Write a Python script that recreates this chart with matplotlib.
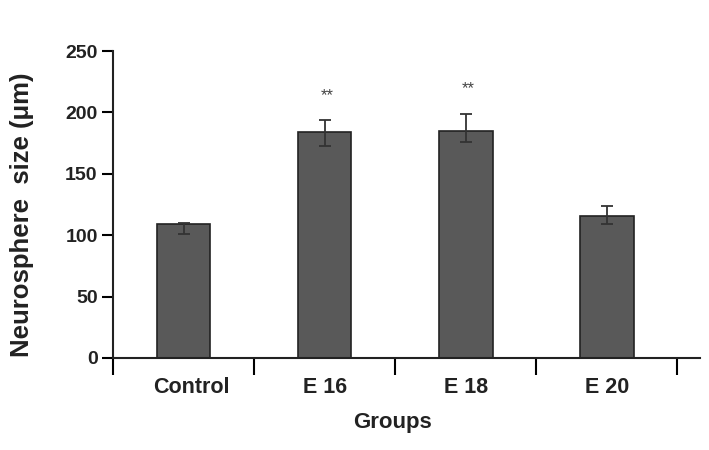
import numpy as np
import matplotlib.pyplot as plt
from matplotlib.transforms import ScaledTranslation

groups = ['Control', 'E 16', 'E 18', 'E 20']
sizes = [109, 184, 185, 116]
err_low = [8, 11, 9, 7]
err_high = [1, 10, 14, 8]
stars = ['', '**', '**', '']

plt.rcParams['font.family'] = ['Liberation Sans', 'DejaVu Sans']

fig = plt.figure(figsize=(7.09, 4.5), dpi=100)
ax = fig.add_axes([113/709, 92/450, 587/709, 307/450])

x = np.arange(len(groups))
ax.bar(x, sizes, width=0.38, color='#595959', edgecolor='#222222', linewidth=1.2, zorder=2)
ax.errorbar(x, sizes, yerr=[err_low, err_high], fmt='none', ecolor='#333333',
            elinewidth=1.3, capsize=4, capthick=1.3, zorder=3)

for xi, s, eh, st in zip(x, sizes, err_high, stars):
    if st:
        ax.text(xi + 0.02, s + eh + 20, st, ha='center', va='center', fontsize=12, color='#444444')

ax.set_xlim(-0.5, 3.66)
ax.set_ylim(0, 250)
ax.set_yticks([0, 50, 100, 150, 200, 250])
ax.set_xticks(np.arange(-0.5, 4.0, 1.0))
ax.set_xticklabels([])
ax.set_xticks(x, minor=True)
ax.set_xticklabels(groups, minor=True)
ax.tick_params(axis='x', which='major', length=12, width=1.5, direction='out')
ax.tick_params(axis='x', which='minor', length=0, pad=14, labelsize=15.5)
ax.tick_params(axis='y', length=8, width=1.5, labelsize=14, pad=3)
for lab in ax.get_xticklabels(minor=True) + ax.get_yticklabels():
    lab.set_fontweight('bold')
    lab.set_color('#222222')
# Control label sits a little right of its bar in the original
ctrl = ax.get_xticklabels(minor=True)[0]
ctrl.set_transform(ctrl.get_transform() + ScaledTranslation(8/100, 0, fig.dpi_scale_trans))

for side in ['top', 'right']:
    ax.spines[side].set_visible(False)
for side in ['left', 'bottom']:
    ax.spines[side].set_linewidth(1.5)
    ax.spines[side].set_color('#222222')

ax.set_ylabel('Neurosphere  size (μm)', fontsize=18.5, fontweight='bold', color='#222222')
ax.yaxis.set_label_coords(-0.135, 0.467)
ax.set_xlabel('Groups', fontsize=16, fontweight='bold', color='#222222')
ax.xaxis.set_label_coords(0.476, -0.175)

fig.savefig('out.png', dpi=100)
